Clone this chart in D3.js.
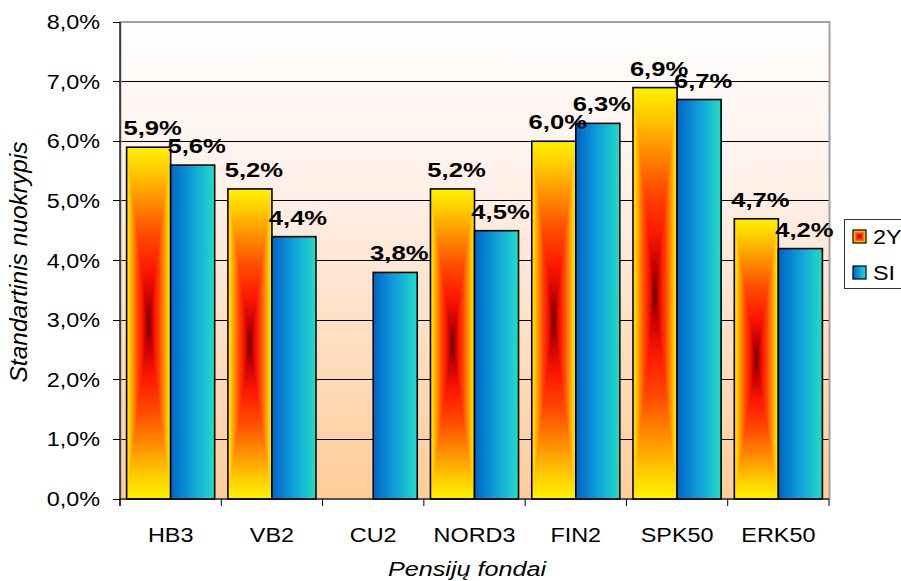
<!DOCTYPE html>
<html>
<head>
<meta charset="utf-8">
<script src="https://cdn.jsdelivr.net/npm/d3@7"></script>
<style>
  html, body { margin: 0; padding: 0; background: #ffffff; }
  svg { display: block; font-family: "Liberation Sans", Arial, sans-serif; }
</style>
</head>
<body>
<svg id="chart" width="901" height="581"></svg>
<script>
// Standard deviation of pension funds, two measurement periods
const categories = ["HB3", "VB2", "CU2", "NORD3", "FIN2", "SPK50", "ERK50"];
const seriesNames = ["2Y", "SI"];
const values2Y = [5.9, 5.2, null, 5.2, 6.0, 6.9, 4.7];
const valuesSI = [5.6, 4.4, 3.8, 4.5, 6.3, 6.7, 4.2];
const yTicks = [0, 1, 2, 3, 4, 5, 6, 7, 8];
const yTitle = "Standartinis nuokrypis";
const xTitle = "Pensijų fondai";

const svg = d3.select("#chart");
const plot = { left: 120, right: 829, top: 22, bottom: 499 };
const SX = 1.2; // horizontal widening of glyphs

const fmt = v => d3.format(".1f")(v).replace(".", ",") + "%";

const x0 = d3.scaleBand().domain(categories).range([plot.left, plot.right]).padding(0);
const x1 = d3.scaleBand().domain(seriesNames).range([0, x0.bandwidth()])
  .paddingInner(0).paddingOuter(0.15);
const y = d3.scaleLinear().domain([0, 8]).range([plot.bottom, plot.top]);

const defs = svg.append("defs");

// plot background: white fading to peach
const bg = defs.append("linearGradient").attr("id", "bgGrad")
  .attr("x1", 0).attr("y1", 0).attr("x2", 0).attr("y2", 1);
bg.append("stop").attr("offset", 0).attr("stop-color", "#ffffff");
bg.append("stop").attr("offset", 0.35).attr("stop-color", "#fff0e8");
bg.append("stop").attr("offset", 1).attr("stop-color", "#ffcc99");

// "fire" stops: yellow at the rim, dark red at the core
const fireStops = [
  [0, "#fff200"], [0.12, "#ffd000"], [0.3, "#ff9000"], [0.5, "#ff4a00"],
  [0.7, "#ff1800"], [0.88, "#c00000"], [1, "#600000"]
];
function fireGrad(id, x1v, y1v, x2v, y2v) {
  const g = defs.append("linearGradient").attr("id", id)
    .attr("x1", x1v).attr("y1", y1v).attr("x2", x2v).attr("y2", y2v);
  fireStops.forEach(s => g.append("stop").attr("offset", s[0]).attr("stop-color", s[1]));
}
fireGrad("fireTop", 0, 0, 0, 1);
fireGrad("fireBot", 0, 1, 0, 0);
// symmetric horizontal gradient across the full bar width
const fh = defs.append("linearGradient").attr("id", "fireFull")
  .attr("x1", 0).attr("y1", 0).attr("x2", 1).attr("y2", 0);
fireStops.forEach(s => fh.append("stop").attr("offset", s[0] / 2).attr("stop-color", s[1]));
fireStops.slice().reverse().forEach(s => fh.append("stop").attr("offset", 1 - s[0] / 2).attr("stop-color", s[1]));

const blue = defs.append("linearGradient").attr("id", "blueGrad")
  .attr("x1", 0).attr("y1", 0).attr("x2", 1).attr("y2", 0);
blue.append("stop").attr("offset", 0).attr("stop-color", "#0064c8");
blue.append("stop").attr("offset", 0.5).attr("stop-color", "#10a0d8");
blue.append("stop").attr("offset", 1).attr("stop-color", "#22dcc8");

// plot area
svg.append("rect").attr("x", plot.left).attr("y", plot.top)
  .attr("width", plot.right - plot.left).attr("height", plot.bottom - plot.top)
  .attr("fill", "url(#bgGrad)");

// gridlines
svg.append("g").selectAll("line").data(yTicks.filter(t => t > 0 && t < 8)).join("line")
  .attr("x1", plot.left).attr("x2", plot.right)
  .attr("y1", d => y(d)).attr("y2", d => y(d))
  .attr("stroke", "#000").attr("stroke-width", 1).attr("shape-rendering", "crispEdges");

// plot border
svg.append("rect").attr("x", plot.left + 0.5).attr("y", plot.top)
  .attr("width", plot.right - plot.left).attr("height", plot.bottom - plot.top)
  .attr("fill", "none").attr("stroke", "#a0a0a0").attr("stroke-width", 2);

// bars
const rows = categories.map((c, i) => ({ cat: c, vals: [values2Y[i], valuesSI[i]] }));
const groups = svg.append("g").selectAll("g").data(rows).join("g")
  .attr("transform", d => `translate(${x0(d.cat)},0)`);

groups.each(function (row) {
  const g = d3.select(this);
  seriesNames.forEach((s, si) => {
    const v = row.vals[si];
    if (v == null) return;
    const bx = x1(s), bw = x1.bandwidth();
    const top = y(v), bot = y(0), cx = bx + bw / 2, cy = (top + bot) / 2;
    if (s === "2Y") {
      g.append("rect").attr("x", bx).attr("y", top).attr("width", bw).attr("height", bot - top)
        .attr("fill", "url(#fireFull)");
      g.append("path").attr("d", `M${bx},${top}L${bx + bw},${top}L${cx},${cy}Z`)
        .attr("fill", "url(#fireTop)");
      g.append("path").attr("d", `M${bx},${bot}L${bx + bw},${bot}L${cx},${cy}Z`)
        .attr("fill", "url(#fireBot)");
    } else {
      g.append("rect").attr("x", bx).attr("y", top).attr("width", bw).attr("height", bot - top)
        .attr("fill", "url(#blueGrad)");
    }
    g.append("rect").attr("x", bx).attr("y", top).attr("width", bw).attr("height", bot - top)
      .attr("fill", "none").attr("stroke", "#000").attr("stroke-width", 1.6);
  });
});

// text helper with widened glyphs
function label(parent, txt, x, yv, opts) {
  const o = Object.assign({ size: 19.5, weight: "normal", anchor: "middle", style: "normal", rotate: 0, sx: SX }, opts || {});
  const t = parent.append("text")
    .attr("transform", o.rotate
      ? `translate(${x},${yv}) rotate(${o.rotate}) scale(1,${o.sx})`
      : `translate(${x},${yv}) scale(${o.sx},1)`)
    .attr("text-anchor", o.anchor).attr("font-size", o.size)
    .attr("font-weight", o.weight).attr("font-style", o.style)
    .attr("fill", "#000").text(txt);
  return t;
}

// value labels
const lab = svg.append("g");
rows.forEach(row => {
  seriesNames.forEach((s, si) => {
    const v = row.vals[si];
    if (v == null) return;
    const cx = x0(row.cat) + x1(s) + x1.bandwidth() / 2 + 4;
    label(lab, fmt(v), cx, y(v) - 12, { weight: "bold", size: 21, sx: 1.22 });
  });
});

// y axis
const yAxis = svg.append("g");
yAxis.append("line").attr("x1", plot.left).attr("x2", plot.left)
  .attr("y1", plot.top).attr("y2", plot.bottom + 7).attr("stroke", "#000").attr("stroke-width", 1.2);
yTicks.forEach(t => {
  yAxis.append("line").attr("x1", plot.left - 7).attr("x2", plot.left)
    .attr("y1", y(t)).attr("y2", y(t)).attr("stroke", "#000").attr("shape-rendering", "crispEdges");
  label(yAxis, fmt(t), 100, y(t) + 7, { anchor: "end" });
});

// x axis
const xAxis = svg.append("g");
xAxis.append("line").attr("x1", plot.left).attr("x2", plot.right)
  .attr("y1", plot.bottom).attr("y2", plot.bottom).attr("stroke", "#000").attr("stroke-width", 1.2);
categories.concat([null]).forEach(c => {
  const xv = c ? x0(c) : plot.right;
  xAxis.append("line").attr("x1", xv).attr("x2", xv)
    .attr("y1", plot.bottom).attr("y2", plot.bottom + 7).attr("stroke", "#000");
});
categories.forEach(c => {
  label(xAxis, c, x0(c) + x0.bandwidth() / 2, 542);
});

// axis titles
label(svg, xTitle, 467, 576, { style: "italic", size: 21 });
label(svg, yTitle, 27, 262, { style: "italic", size: 24.5, rotate: -90, sx: 1 });

// legend
const leg = svg.append("g");
leg.append("rect").attr("x", 844.5).attr("y", 219.5).attr("width", 70).attr("height", 69)
  .attr("fill", "#fff").attr("stroke", "#333").attr("stroke-width", 1);
const legItems = [{ name: "2Y", y: 230 }, { name: "SI", y: 266 }];
legItems.forEach(it => {
  const sx = 853, sw = 13;
  if (it.name === "2Y") {
    leg.append("rect").attr("x", sx).attr("y", it.y).attr("width", sw).attr("height", sw).attr("fill", "url(#fireFull)");
    leg.append("path").attr("d", `M${sx},${it.y}L${sx + sw},${it.y}L${sx + sw / 2},${it.y + sw / 2}Z`).attr("fill", "url(#fireTop)");
    leg.append("path").attr("d", `M${sx},${it.y + sw}L${sx + sw},${it.y + sw}L${sx + sw / 2},${it.y + sw / 2}Z`).attr("fill", "url(#fireBot)");
  } else {
    leg.append("rect").attr("x", sx).attr("y", it.y).attr("width", sw).attr("height", sw).attr("fill", "url(#blueGrad)");
  }
  leg.append("rect").attr("x", sx).attr("y", it.y).attr("width", sw).attr("height", sw)
    .attr("fill", "none").attr("stroke", "#000").attr("stroke-width", 1.2);
  label(leg, it.name, 873, it.y + 14, { anchor: "start" });
});
</script>
</body>
</html>
